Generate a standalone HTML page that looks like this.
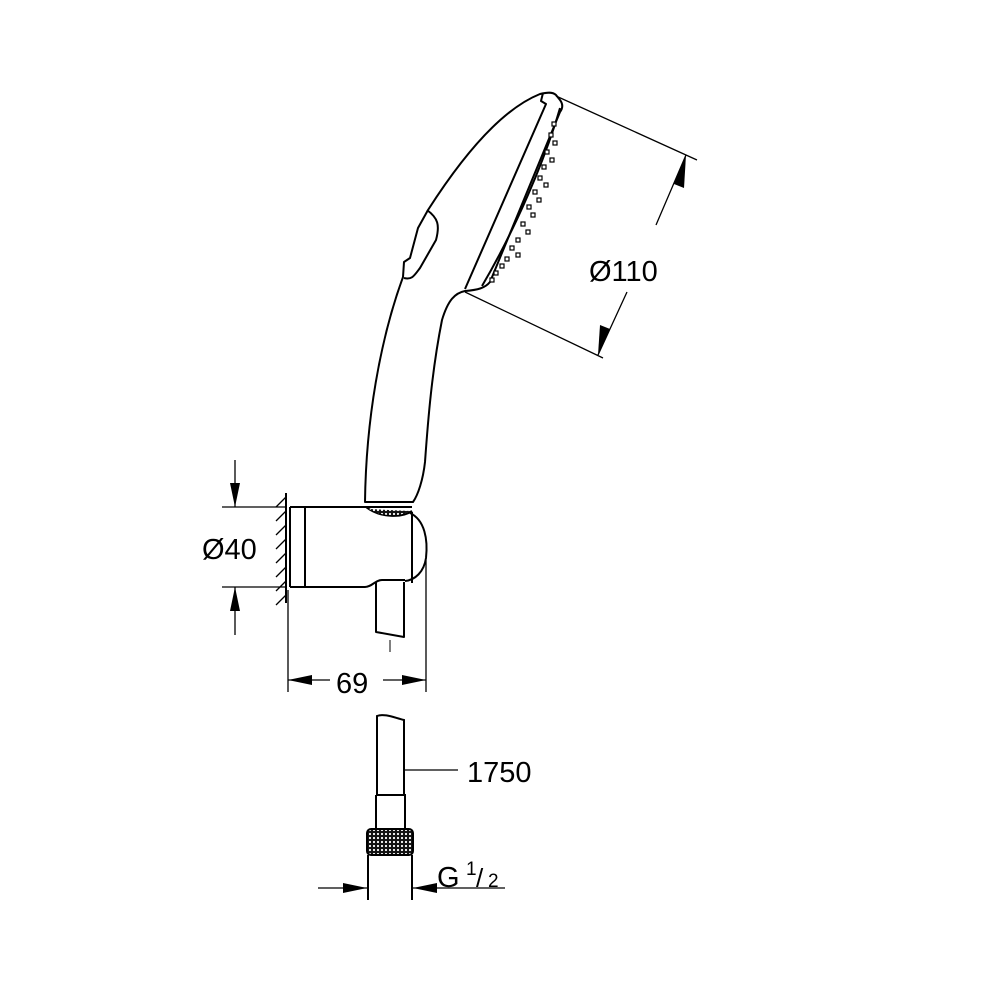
<!DOCTYPE html>
<html><head><style>html,body{margin:0;padding:0;background:#fff}svg{display:block}</style></head>
<body>
<svg width="1000" height="1000" viewBox="0 0 1000 1000" xmlns="http://www.w3.org/2000/svg" font-family="Liberation Sans, sans-serif">
<defs>
<pattern id="kn" width="4" height="4" patternUnits="userSpaceOnUse"><rect width="4" height="4" fill="#111"/><circle cx="2" cy="2" r="1.1" fill="#fff"/></pattern>
</defs>
<g fill="none" stroke="#000" stroke-width="2" stroke-linejoin="round">
<path d="M365,502 C366,420 380,340 403,277 L404,262 L410,258 L418,228 L428,210 C460,160 500,110 540,94 C548,92 553,92 556,95 L560,100 C563,104 563,108 560,112 L490,282 C485,288 478,290 465,291 C455,293 448,300 442,320 C432,370 428,420 425,462 C423,480 418,495 413,502 Z"/>
<path d="M427,210 C438,218 440,225 436,240 L420,268 C414,276 412,280 404,278"/>
<path d="M543,93 L541,101 L546,104 L465,289"/>
<path d="M560,108 C545,160 515,230 482,286"/>
<path d="M366,502 L413,502"/>
<path d="M290,507 L370,507 M290,587 L365,587 C372,587 375,580 382,580 L405,580"/>
<path d="M290,507 L290,587 M305,507 L305,587"/>
<path d="M366,507 L412,507 M412,512 L412,583"/>
<path d="M366,507 C380,518 402,518 412,511"/>
<path d="M410,513 C425,520 428,540 426,558 C424,572 415,580 405,581"/>
<path d="M376,582 L376,632 L404,637 L404,582"/>
<path d="M390,640 L390,652" stroke-width="1"/>
<path d="M286,493 L286,603"/>
</g>
<!-- nozzles -->
<g fill="#fff" stroke="#000" stroke-width="1.2">
<rect x="552" y="122" width="4" height="4"/><rect x="549" y="133" width="4" height="4"/><rect x="553" y="141" width="4" height="4"/>
<rect x="545" y="150" width="4" height="4"/><rect x="550" y="158" width="4" height="4"/><rect x="542" y="165" width="4" height="4"/>
<rect x="538" y="176" width="4" height="4"/><rect x="544" y="183" width="4" height="4"/><rect x="533" y="190" width="4" height="4"/>
<rect x="537" y="198" width="4" height="4"/><rect x="527" y="205" width="4" height="4"/><rect x="531" y="213" width="4" height="4"/>
<rect x="521" y="222" width="4" height="4"/><rect x="526" y="230" width="4" height="4"/><rect x="516" y="238" width="4" height="4"/>
<rect x="510" y="246" width="4" height="4"/><rect x="516" y="253" width="4" height="4"/><rect x="505" y="257" width="4" height="4"/>
<rect x="500" y="264" width="4" height="4"/><rect x="494" y="271" width="4" height="4"/><rect x="490" y="278" width="4" height="4"/>
</g>
<path d="M369,509 C382,517 400,517 410,511 Z" fill="url(#kn)"/>
<g stroke="#000" stroke-width="1.3">
<path d="M286,497 L276,507 M286,511 L276,521 M286,525 L276,535 M286,539 L276,549 M286,553 L276,563 M286,567 L276,577 M286,581 L276,591 M286,595 L276,605"/>
<path d="M556,96 L697,160 M465,292 L603,358 M686,155 L656,225 M627,292 L598,355"/>
<path d="M222,507 L286,507 M222,587 L286,587 M235,460 L235,507 M235,587 L235,635"/>
<path d="M288,590 L288,692 M426,560 L426,692 M288,680 L330,680 M383,680 L426,680"/>
<path d="M405,770 L458,770"/>
<path d="M318,888 L367,888 M413,888 L505,888"/>
</g>
<g fill="#000">
<polygon points="686,155 674,184 684,188"/>
<polygon points="598,355 600,325 610,329"/>
<polygon points="235,507 230,483 240,483"/>
<polygon points="235,587 230,611 240,611"/>
<polygon points="288,680 312,675 312,685"/>
<polygon points="426,680 402,675 402,685"/>
<polygon points="367,888 343,883 343,893"/>
<polygon points="413,888 437,883 437,893"/>
</g>
<g fill="none" stroke="#000" stroke-width="2">
<path d="M377,795 L377,716 C385,713 395,718 404,720 L404,795"/>
<path d="M376,795 L405,795 L405,829 M376,795 L376,829"/>
<path d="M368,855 L368,900 M412,855 L412,900"/>
</g>
<rect x="367" y="829" width="46" height="26" rx="4" fill="url(#kn)" stroke="#000" stroke-width="2"/>
<g fill="#000" font-size="29">
<text x="589" y="281">Ø110</text>
<text x="202" y="559">Ø40</text>
<text x="336" y="693">69</text>
<text x="467" y="782">1750</text>
<text x="437" y="887">G</text>
<text x="466" y="875" font-size="19">1</text>
<text x="476" y="887" font-size="26">/</text>
<text x="488" y="887" font-size="19">2</text>
</g>
</svg>
</body></html>
